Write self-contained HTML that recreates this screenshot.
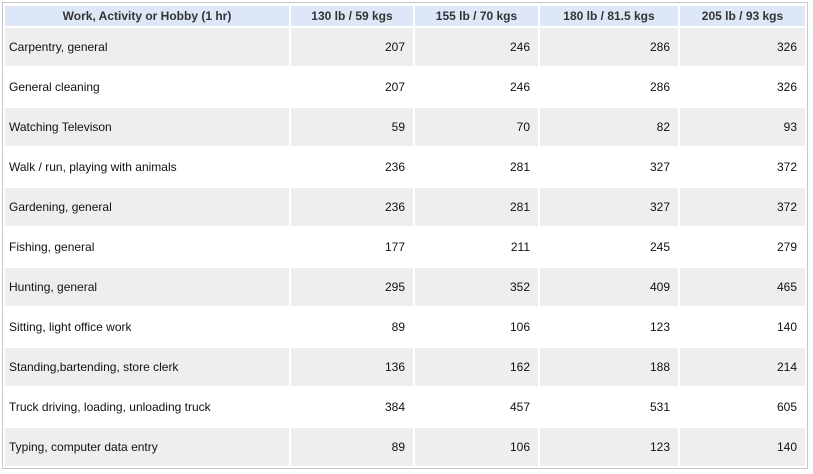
<!DOCTYPE html>
<html><head><meta charset="utf-8"><style>
body{margin:0;width:813px;height:474px;background:#fff;font-family:"Liberation Sans",sans-serif;font-size:12px;color:#111;position:relative;overflow:hidden}
#frame{position:absolute;left:2px;top:2px;width:806px;height:467px;border:1px solid #c8c8c8;box-sizing:border-box}
.c{position:absolute;box-sizing:border-box;line-height:20px;white-space:nowrap}
.h{background:#dde7f8;font-weight:bold;text-align:center;color:#333;height:20px;top:6px}
.r{height:38px;line-height:39px}
.g{background:#eeeeee}
.n{text-align:right;padding-right:8px}
.l{padding-left:4px}
</style></head><body>
<div id="frame"></div>
<div id="t"></div>
<script>
const headers=["Work, Activity or Hobby (1 hr)","130 lb / 59 kgs","155 lb / 70 kgs","180 lb / 81.5 kgs","205 lb / 93 kgs"];
const activities=["Carpentry, general","General cleaning","Watching Televison","Walk / run, playing with animals","Gardening, general","Fishing, general","Hunting, general","Sitting, light office work","Standing,bartending, store clerk","Truck driving, loading, unloading truck","Typing, computer data entry"];
const w130=[207,207,59,236,236,177,295,89,136,384,89];
const w155=[246,246,70,281,281,211,352,106,162,457,106];
const w180=[286,286,82,327,327,245,409,123,188,531,123];
const w205=[326,326,93,372,372,279,465,140,214,605,140];
const colX=[5,291,415,540,680],colW=[284,122,123,138,125];
const t=document.getElementById('t');
headers.forEach((h,i)=>{const d=document.createElement('div');d.className='c h';d.style.left=colX[i]+'px';d.style.width=colW[i]+'px';d.textContent=h;


t.appendChild(d);});
const cols=[w130,w155,w180,w205];
activities.forEach((a,r)=>{const y=28+r*40;const g=r%2===0;
const vals=[a].concat(cols.map(c=>c[r]));
vals.forEach((v,i)=>{const d=document.createElement('div');d.className='c r '+(g?'g ':'')+(i?'n':'l');d.style.left=colX[i]+'px';d.style.width=colW[i]+'px';d.style.top=y+'px';d.textContent=v;


t.appendChild(d);});});
</script>
</body></html>
